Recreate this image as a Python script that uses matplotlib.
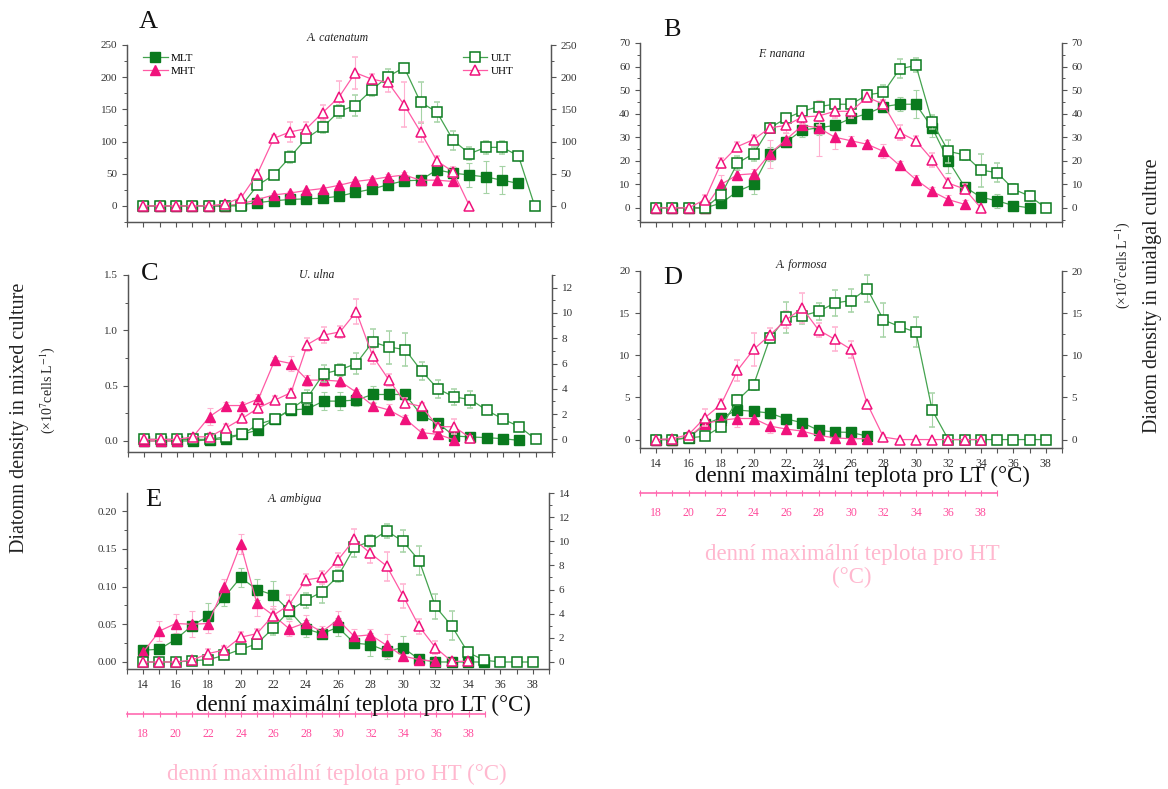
import numpy as np
import matplotlib
matplotlib.use("Agg")
import matplotlib.pyplot as plt
from matplotlib.ticker import MultipleLocator, NullFormatter, FuncFormatter
from matplotlib.lines import Line2D

plt.rcParams['font.family'] = ['Liberation Serif', 'DejaVu Serif']
plt.rcParams['mathtext.fontset'] = 'stix'

T0 = 14
lt_ticks = list(range(14, 39, 2))
ht_ticks = list(range(18, 39, 2))

# ---- Panel A: A. catenatum ----
A_MLT = [0, 0, 0, 0, 0, 0, 2, 5, 8, 10, 11, 12, 15, 21, 26, 33, 39, 40, 56, 51, 48, 45, 40, 35]
A_MLT_err = [0, 0, 0, 0, 0, 0, 1, 2, 2, 2, 2, 2, 3, 3, 3, 4, 4, 5, 8, 10, 18, 25, 22, 5]
A_MHT = [0, 0, 0, 0, 0, 0, 3, 10, 17, 20, 24, 27, 32, 38, 41, 45, 48, 40, 40, 38]
A_MHT_err = [0, 0, 0, 0, 0, 0, 2, 3, 3, 3, 3, 3, 4, 4, 4, 4, 4, 4, 6, 5]
A_ULT = [0, 0, 0, 0, 0, 0, 0, 32, 48, 76, 105, 122, 147, 156, 180, 201, 215, 161, 146, 102, 81, 91, 91, 78, 0]
A_ULT_err = [0, 0, 0, 0, 0, 0, 0, 4, 5, 10, 8, 8, 10, 17, 10, 12, 5, 32, 15, 15, 10, 10, 10, 5, 0]
A_UHT = [0, 0, 0, 0, 0, 3, 13, 50, 105, 115, 120, 145, 169, 207, 197, 192, 157, 115, 70, 53, 0]
A_UHT_err = [0, 0, 0, 0, 0, 2, 4, 6, 5, 15, 10, 12, 25, 25, 8, 15, 35, 15, 8, 8, 0]

# ---- Panel B: F. nanana ----
B_MLT = [0, 0, 0, 0, 2, 7, 10, 23, 28, 33, 34, 35, 38, 40, 43, 44, 44, 34, 20, 9, 4.5, 3, 1, 0]
B_MLT_err = [0, 0, 0, 0, 1, 2, 4, 3, 2, 3, 3, 2, 2, 2, 2, 3, 6, 4, 5, 2, 2, 3, 1, 0]
B_MHT = [0, 0, 0, 0, 10, 14, 14.5, 23, 29, 35, 34, 30, 28.5, 27, 24, 18, 12, 7, 3.5, 1.5]
B_MHT_err = [0, 0, 0, 0, 4, 2, 2, 6, 3, 3, 12, 5, 2, 2, 3, 2, 2, 2, 2, 2]
B_ULT = [0, 0, 0, 0, 5.5, 19, 23, 34, 38, 41, 43, 44, 44, 48, 49, 59, 60.5, 36.5, 24, 22.5, 16, 15, 8, 5, 0]
B_ULT_err = [0, 0, 0, 0, 2, 3, 3, 2, 2, 2, 2, 2, 2, 2, 3, 4, 3, 3, 5, 2, 7, 4, 2, 2, 0]
B_UHT = [0, 0, 0, 3.5, 19, 26, 29, 34, 35, 38.6, 39, 41, 41, 47, 44, 32, 28.5, 20.5, 10.5, 8, 0]
B_UHT_err = [0, 0, 0, 2, 2, 2, 2, 2, 3, 3, 4, 3, 3, 2, 2, 3, 2, 3, 2, 2, 0]

# ---- Panel C: U. ulna ----
C_MLT = [0, 0, 0, 0, 0.01, 0.02, 0.06, 0.10, 0.20, 0.28, 0.29, 0.36, 0.36, 0.37, 0.42, 0.42, 0.42,
         0.23, 0.16, 0.045, 0.036, 0.03, 0.02, 0.005]
C_MLT_err = [0, 0, 0, 0, 0.01, 0.01, 0.02, 0.02, 0.03, 0.03, 0.03, 0.08, 0.08, 0.05, 0.08, 0.05, 0.05,
             0.04, 0.03, 0.02, 0.02, 0.01, 0.01, 0.01]
C_MHT = [0, 0, 0, 0.04, 0.22, 0.32, 0.32, 0.38, 0.73, 0.70, 0.55, 0.55, 0.54, 0.44, 0.32, 0.28, 0.20,
         0.075, 0.06, 0.01]
C_MHT_err = [0, 0, 0, 0.02, 0.08, 0.03, 0.03, 0.04, 0.03, 0.07, 0.05, 0.05, 0.05, 0.03, 0.03, 0.05, 0.03,
             0.03, 0.03, 0.03]
C_ULT = [0, 0, 0, 0, 0, 0.2, 0.4, 1.2, 1.6, 2.4, 3.3, 5.2, 5.5, 6.0, 7.7, 7.3, 7.1, 5.4, 4.0, 3.35, 3.15,
         2.3, 1.6, 1.0, 0]
C_ULT_err = [0, 0, 0, 0, 0, 0.1, 0.2, 0.3, 0.3, 0.3, 0.6, 0.7, 0.5, 0.8, 1.0, 1.3, 1.3, 0.7, 0.7, 0.6, 0.7,
             0.3, 0.3, 0.3, 0]
C_UHT = [0, 0, 0, 0.2, 0.2, 0.9, 1.65, 2.5, 3.1, 3.7, 7.5, 8.25, 8.5, 10.1, 6.6, 4.7, 2.9, 2.6, 1.0, 1.0, 0.1]
C_UHT_err = [0.2, 0.2, 0.2, 0.2, 0.3, 0.3, 0.3, 0.4, 0.3, 0.3, 0.5, 0.6, 0.5, 1.0, 0.6, 0.5, 0.4, 0.3, 0.3,
             0.6, 0.2]

# ---- Panel D: A. formosa ----
D_MLT = [0, 0, 0.2, 1.8, 2.6, 3.5, 3.35, 3.15, 2.45, 2.0, 1.1, 0.9, 0.85, 0.4]
D_MLT_err = [0, 0, 0.2, 0.5, 0.6, 0.8, 0.5, 0.4, 0.4, 0.3, 0.3, 0.3, 0.3, 0.2]
D_MHT = [0, 0, 0.3, 1.9, 2.3, 2.5, 2.5, 1.6, 1.25, 1.0, 0.5, 0.2, 0.1, 0.1]
D_MHT_err = [0, 0, 0.2, 0.4, 0.8, 1.0, 0.6, 0.8, 0.5, 0.4, 0.3, 0.2, 0.1, 0.1]
D_ULT = [0, 0, 0.2, 0.4, 1.5, 4.65, 6.5, 12.0, 14.5, 14.7, 15.2, 16.2, 16.5, 17.9, 14.2, 13.4, 12.75, 3.5,
         0, 0, 0, 0, 0, 0, 0]
D_ULT_err = [0, 0, 0.2, 0.3, 0.4, 0.6, 0.6, 0.6, 1.8, 1.0, 1.0, 1.5, 1.4, 1.6, 2.0, 0.6, 1.8, 2.0,
             0, 0, 0, 0, 0, 0, 0]
D_UHT = [0, 0.1, 0.6, 2.6, 4.2, 8.2, 10.7, 12.4, 14.2, 15.6, 13.0, 11.9, 10.7, 4.25, 0.3, 0, 0, 0, 0, 0, 0]
D_UHT_err = [0, 0.1, 0.3, 1.0, 0.6, 1.3, 2.0, 0.8, 1.0, 1.8, 0.8, 1.4, 1.0, 0.3, 0.2, 0, 0, 0, 0, 0, 0]

# ---- Panel E: A. ambigua ----
E_MLT = [0.0155, 0.017, 0.03, 0.048, 0.061, 0.086, 0.112, 0.096, 0.089, 0.068, 0.044, 0.0375, 0.046,
         0.025, 0.023, 0.0145, 0.019, 0.0035, 0, 0, 0, 0]
E_MLT_err = [0.003, 0.003, 0.004, 0.005, 0.017, 0.012, 0.012, 0.014, 0.019, 0.011, 0.011, 0.005, 0.012,
             0.006, 0.015, 0.01, 0.015, 0.003, 0.002, 0.002, 0.002, 0.002]
E_MHT = [0.013, 0.041, 0.051, 0.05, 0.051, 0.1, 0.156, 0.078, 0.062, 0.044, 0.052, 0.04, 0.056, 0.034,
         0.036, 0.022, 0.008, 0.003, 0.001]
E_MHT_err = [0.005, 0.013, 0.013, 0.017, 0.012, 0.01, 0.013, 0.017, 0.012, 0.01, 0.01, 0.008, 0.012, 0.01,
             0.008, 0.015, 0.005, 0.003, 0.002]
E_ULT = [0, 0, 0, 0.1, 0.2, 0.55, 1.05, 1.5, 2.8, 4.25, 5.1, 5.8, 7.1, 9.5, 10.0, 10.85, 10.0, 8.4, 4.6,
         3.0, 0.8, 0.15, 0, 0, 0]
E_ULT_err = [0, 0, 0, 0.1, 0.2, 0.3, 0.3, 0.4, 0.6, 0.6, 0.6, 0.9, 0.5, 0.8, 0.5, 0.6, 0.9, 1.2, 1.0,
             1.2, 0.3, 0.1, 0, 0, 0]
E_UHT = [0, 0, 0, 0.15, 0.7, 1.0, 2.05, 2.35, 3.85, 4.75, 6.8, 7.0, 8.45, 10.15, 9.0, 7.95, 5.5, 2.95,
         1.2, 0.05, 0.05]
E_UHT_err = [0, 0, 0, 0.2, 0.4, 0.3, 0.4, 0.4, 0.5, 0.8, 0.5, 0.5, 0.6, 0.9, 0.8, 1.2, 1.0, 0.6, 0.5,
             0.1, 0.1]

# ---- styles ----
G_FILL = '#0a7a1e'
G_LINE = '#44a34f'
G_ERR = '#a5d3a5'
P_FILL = '#f0127c'
P_LINE = '#ff5aa5'
P_ERR = '#ffb0d0'
AX_COL = '#555555'
TXT_COL = '#333333'

W, H = 1168, 789
fig = plt.figure(figsize=(W / 100, H / 100), dpi=100)


def frac_rect(l, r, t, b):
    return [l / W, 1 - b / H, (r - l) / W, (b - t) / H]


def fx(x):
    return x / W


def fy(y):
    return 1 - y / H


def series(ax, vals, err, kind):
    x = np.arange(T0, T0 + len(vals))
    if kind == 'MLT':
        kw = dict(marker='s', ms=6.5, mfc=G_FILL, mec=G_FILL, color=G_LINE, ecolor=G_ERR)
    elif kind == 'MHT':
        kw = dict(marker='^', ms=7.5, mfc=P_FILL, mec=P_FILL, color=P_LINE, ecolor=P_ERR)
    elif kind == 'ULT':
        kw = dict(marker='s', ms=6.5, mfc='white', mec=G_FILL, mew=1.1, color=G_LINE, ecolor=G_ERR)
    else:
        kw = dict(marker='^', ms=7.5, mfc='white', mec=P_FILL, mew=1.1, color=P_LINE, ecolor=P_ERR)
    ax.errorbar(x, vals, yerr=err, lw=0.9, elinewidth=0.8, capsize=2, capthick=0.8, **kw)


def style_axis(ax, side):
    for s in ['top']:
        ax.spines[s].set_visible(False)
    for s in ['left', 'right', 'bottom']:
        ax.spines[s].set_color(AX_COL)
        ax.spines[s].set_linewidth(0.9)
    ax.tick_params(axis='both', which='both', direction='out', colors=AX_COL, labelcolor=TXT_COL,
                   labelsize=8)
    ax.tick_params(which='major', length=3.5, width=0.8)
    ax.tick_params(which='minor', length=2, width=0.7)


def make_panel(rect, data, ylim_l, ylim_r, ymaj_l, ymin_l, ymaj_r, ymin_r, yfmt_l, yfmt_r,
               letter, letter_xy, title, title_xy, xlabels):
    ax = fig.add_axes(rect)
    ax2 = ax.twinx()
    ax.set_zorder(1)
    ax2.set_zorder(2)
    ax.patch.set_visible(True)
    ax2.patch.set_visible(False)
    mlt, mlte, mht, mhte, ult, ulte, uht, uhte = data
    series(ax, mlt, mlte, 'MLT')
    series(ax, mht, mhte, 'MHT')
    series(ax2, ult, ulte, 'ULT')
    series(ax2, uht, uhte, 'UHT')
    for a in (ax, ax2):
        a.set_xlim(13, 39)
        style_axis(a, None)
        a.xaxis.set_major_locator(MultipleLocator(1))
    ax.set_ylim(*ylim_l)
    ax2.set_ylim(*ylim_r)
    ax.yaxis.set_major_locator(MultipleLocator(ymaj_l))
    ax.yaxis.set_minor_locator(MultipleLocator(ymin_l))
    ax2.yaxis.set_major_locator(MultipleLocator(ymaj_r))
    ax2.yaxis.set_minor_locator(MultipleLocator(ymin_r))
    ax.yaxis.set_major_formatter(FuncFormatter(yfmt_l))
    ax2.yaxis.set_major_formatter(FuncFormatter(yfmt_r))
    if xlabels:
        ax.xaxis.set_major_formatter(FuncFormatter(
            lambda v, p: ('%d' % round(v)) if round(v) in lt_ticks else ''))
        ax.tick_params(axis='x', labelsize=8.5, pad=4)
    else:
        ax.xaxis.set_major_formatter(NullFormatter())
    fig.text(fx(letter_xy[0]), fy(letter_xy[1]), letter, fontsize=19, ha='center', va='center',
             color='#111111')
    fig.text(fx(title_xy[0]), fy(title_xy[1]), title, fontsize=8.5, style='italic', ha='center',
             va='center', color='#222222')
    return ax, ax2


fmt_int = lambda v, p: '%d' % round(v)
fmt_1 = lambda v, p: '%.1f' % v
fmt_2 = lambda v, p: '%.2f' % v

axA, axA2 = make_panel(frac_rect(127, 551, 45, 222),
                       (A_MLT, A_MLT_err, A_MHT, A_MHT_err, A_ULT, A_ULT_err, A_UHT, A_UHT_err),
                       (-25, 250), (-25, 250), 50, 25, 50, 25, fmt_int, fmt_int,
                       'A', (148, 22), 'A. catenatum', (338, 38), False)
axB, axB2 = make_panel(frac_rect(640, 1062, 43, 222),
                       (B_MLT, B_MLT_err, B_MHT, B_MHT_err, B_ULT, B_ULT_err, B_UHT, B_UHT_err),
                       (-6, 70), (-6, 70), 10, 5, 10, 5, fmt_int, fmt_int,
                       'B', (672, 30), 'F. nanana', (782, 54), False)
axC, axC2 = make_panel(frac_rect(128, 552, 275, 452),
                       (C_MLT, C_MLT_err, C_MHT, C_MHT_err, C_ULT, C_ULT_err, C_UHT, C_UHT_err),
                       (-0.1, 1.5), (-1, 13), 0.5, 0.25, 2, 1, fmt_1, fmt_int,
                       'C', (150, 274), 'U. ulna', (317, 275), False)
axD, axD2 = make_panel(frac_rect(640, 1062, 271, 448),
                       (D_MLT, D_MLT_err, D_MHT, D_MHT_err, D_ULT, D_ULT_err, D_UHT, D_UHT_err),
                       (-1, 20), (-1, 20), 5, 2.5, 5, 2.5, fmt_int, fmt_int,
                       'D', (673, 278), 'A. formosa', (802, 265), True)
axE, axE2 = make_panel(frac_rect(127, 549, 493, 669),
                       (E_MLT, E_MLT_err, E_MHT, E_MHT_err, E_ULT, E_ULT_err, E_UHT, E_UHT_err),
                       (-0.0093, 0.224), (-0.58, 14), 0.05, 0.025, 2, 1, fmt_2, fmt_int,
                       'E', (153, 500), 'A. ambigua', (295, 499), True)

# legends in panel A
def handle(kind):
    if kind == 'MLT':
        return Line2D([], [], marker='s', ms=6.5, mfc=G_FILL, mec=G_FILL, color=G_LINE, lw=0.9)
    if kind == 'MHT':
        return Line2D([], [], marker='^', ms=7.5, mfc=P_FILL, mec=P_FILL, color=P_LINE, lw=0.9)
    if kind == 'ULT':
        return Line2D([], [], marker='s', ms=6.5, mfc='white', mec=G_FILL, mew=1.1, color=G_LINE, lw=0.9)
    return Line2D([], [], marker='^', ms=7.5, mfc='white', mec=P_FILL, mew=1.1, color=P_LINE, lw=0.9)


leg1 = axA2.legend([handle('MLT'), handle('MHT')], ['MLT', 'MHT'], loc='upper left',
                   bbox_to_anchor=(0.02, 1.0), frameon=False, fontsize=8, handlelength=2.2,
                   labelspacing=0.3, borderpad=0.2, handletextpad=0.3)
axA2.add_artist(leg1)
axA2.legend([handle('ULT'), handle('UHT')], ['ULT', 'UHT'], loc='upper right',
            bbox_to_anchor=(0.93, 1.0), frameon=False, fontsize=8, handlelength=2.2,
            labelspacing=0.3, borderpad=0.2, handletextpad=0.3)

# HT secondary axes (pink)
PINK_AX = '#ff69b0'
PINK_TXT = '#ff4d9d'
PINK_LBL = '#ffb8cf'


def ht_axis(l, r, y):
    a = fig.add_axes([l / W, 1 - y / H, (r - l) / W, 1e-4])
    a.patch.set_visible(False)
    for s in ['top', 'left', 'right']:
        a.spines[s].set_visible(False)
    a.spines['bottom'].set_color(PINK_AX)
    a.spines['bottom'].set_linewidth(1.2)
    a.set_yticks([])
    a.set_xlim(17, 39)
    a.xaxis.set_major_locator(MultipleLocator(1))
    a.xaxis.set_major_formatter(FuncFormatter(
        lambda v, p: ('%d' % round(v)) if round(v) in ht_ticks else ''))
    a.tick_params(axis='x', direction='inout', length=4, width=0.8, colors=PINK_AX,
                  labelcolor=PINK_TXT, labelsize=8.5, pad=8)
    return a


ht_axis(127, 485, 714)
ht_axis(640, 997, 493)

# axis titles
fig.text(fx(363), fy(705), 'denní maximální teplota pro LT (°C)', fontsize=16.5, ha='center',
         va='center', color='#111111')
fig.text(fx(862), fy(476), 'denní maximální teplota pro LT (°C)', fontsize=16.5, ha='center',
         va='center', color='#111111')
fig.text(fx(337), fy(774), 'denní maximální teplota pro HT (°C)', fontsize=16.5, ha='center',
         va='center', color=PINK_LBL)
fig.text(fx(852), fy(566), 'denní maximální teplota pro HT\n(°C)', fontsize=16.5, ha='center',
         va='center', color=PINK_LBL, linespacing=1.1)

fig.text(fx(20), fy(418), 'Diatomn density in mixed culture', fontsize=14.5, rotation=90,
         ha='center', va='center', color='#222222')
fig.text(fx(48), fy(390), r'(×10$^{7}$cells L$^{-1}$)', fontsize=10, rotation=90,
         ha='center', va='center', color='#222222')
fig.text(fx(1152), fy(296), 'Diatom density in unialgal culture', fontsize=14.5, rotation=90,
         ha='center', va='center', color='#222222')
fig.text(fx(1123), fy(265), r'(×10$^{7}$cells L$^{-1}$)', fontsize=10, rotation=90,
         ha='center', va='center', color='#222222')

fig.savefig('out.png', dpi=100)
